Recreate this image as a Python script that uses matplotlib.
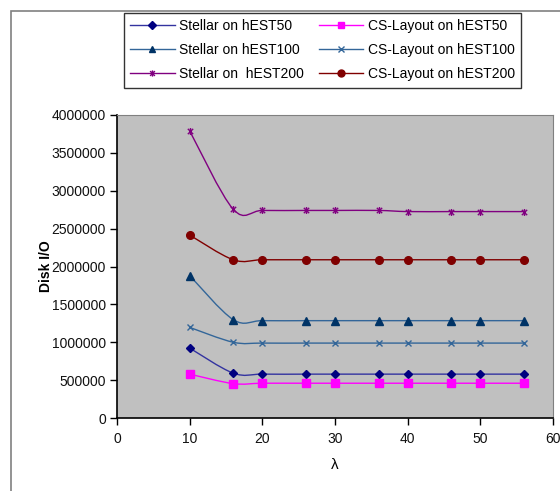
import numpy as np
import matplotlib
matplotlib.use("Agg")
import matplotlib.pyplot as plt
from matplotlib.path import Path
from matplotlib.patches import PathPatch, Rectangle
from matplotlib.lines import Line2D

lam = [10, 16, 20, 26, 30, 36, 40, 46, 50, 56]

stellar_50 = [923000, 592000, 579000, 579000, 579000, 579000, 579000, 579000, 579000, 579000]
cs_50 = [579000, 454000, 459000, 459000, 459000, 459000, 459000, 459000, 459000, 459000]
stellar_100 = [1880000, 1298000, 1285000, 1285000, 1285000, 1285000, 1285000, 1285000, 1285000, 1285000]
cs_100 = [1196000, 1000000, 989000, 989000, 989000, 989000, 989000, 989000, 989000, 989000]
stellar_200 = [3790000, 2755000, 2740000, 2740000, 2740000, 2740000, 2725000, 2725000, 2725000, 2725000]
cs_200 = [2415000, 2089000, 2089000, 2089000, 2089000, 2089000, 2089000, 2089000, 2089000, 2089000]

labels = ["Stellar on hEST50", "CS-Layout on hEST50",
          "Stellar on hEST100", "CS-Layout on hEST100",
          "Stellar on  hEST200", "CS-Layout on hEST200"]

plt.rcParams['font.family'] = ['Liberation Sans', 'DejaVu Sans']
plt.rcParams['font.size'] = 10

# star marker like Excel's (x with a vertical bar)
star = Path([(-1, -1), (1, 1), (-1, 1), (1, -1), (0, -1.3), (0, 1.3)],
            [Path.MOVETO, Path.LINETO, Path.MOVETO, Path.LINETO, Path.MOVETO, Path.LINETO])

series = [
    (stellar_50, labels[0], '#3333A0', '#000080', 'D', 4.5),
    (cs_50, labels[1], '#FF00FF', '#FF00FF', 's', 5.5),
    (stellar_100, labels[2], '#336699', '#003366', '^', 5.5),
    (cs_100, labels[3], '#336699', '#336699', 'x', 4.5),
    (stellar_200, labels[4], '#800080', '#800080', star, 5),
    (cs_200, labels[5], '#800000', '#800000', 'o', 5.5),
]


def excel_smooth(ax, xs, ys, color):
    pts = np.column_stack([xs, ys]).astype(float)
    n = len(pts)
    verts = [pts[0]]
    codes = [Path.MOVETO]
    for i in range(n - 1):
        p0 = pts[i - 1] if i > 0 else pts[i]
        p1 = pts[i]
        p2 = pts[i + 1]
        p3 = pts[i + 2] if i + 2 < n else pts[i + 1]
        verts += [p1 + (p2 - p0) / 6, p2 - (p3 - p1) / 6, p2]
        codes += [Path.CURVE4] * 3
    ax.add_patch(PathPatch(Path(verts, codes), facecolor='none', edgecolor=color, lw=1.0))


fig = plt.figure(figsize=(5.6, 4.91), dpi=100)
fig.patches.append(Rectangle((11 / 560, -0.1), 1.2, 1 - 11 / 491 + 0.1, transform=fig.transFigure,
                             fill=False, edgecolor='#808080', lw=1.2))

ax = fig.add_axes([117 / 560, 1 - 418 / 491, 436 / 560, 303 / 491])
ax.set_facecolor('#C0C0C0')

handles = []
for ys, lab, lc, mc, mk, ms in series:
    excel_smooth(ax, lam, ys, lc)
    ax.plot(lam, ys, linestyle='none', marker=mk, color=mc, markersize=ms, mew=1.0)
    handles.append(Line2D([], [], color=lc, lw=1.0, marker=mk, markerfacecolor=mc,
                          markeredgecolor=mc, markersize=ms - 0.5, mew=1.0, label=lab))

ax.set_xlim(0, 60)
ax.set_ylim(0, 4000000)
ax.set_xticks(range(0, 61, 10))
ax.set_yticks(range(0, 4000001, 500000))
ax.yaxis.set_major_formatter(matplotlib.ticker.FuncFormatter(lambda v, _: f'{int(v)}'))
ax.tick_params(direction='out', length=5, width=1, labelsize=10, pad=3, colors='black',
               labelcolor='#111111')
ax.tick_params(axis='x', pad=5)
ax.spines['top'].set_color('#808080')
ax.spines['right'].set_color('#808080')
for s in ['left', 'bottom']:
    ax.spines[s].set_color('black')
    ax.spines[s].set_linewidth(1.2)

ax.set_ylabel("Disk I/O", fontweight='bold', fontsize=10, labelpad=-1)
ax.set_xlabel("λ", fontsize=11, labelpad=9)

order = [0, 2, 4, 1, 3, 5]
leg = fig.legend([handles[i] for i in order], [labels[i] for i in order], ncol=2,
                 loc='upper left', bbox_to_anchor=(124 / 560, 1 - 13 / 491, 397 / 560, 0.0),
                 mode='expand', frameon=True, fancybox=False, edgecolor='black',
                 fontsize=10, handlelength=3.2, handletextpad=0.3, labelspacing=0.72,
                 borderpad=0.45, borderaxespad=0, columnspacing=1.0)
leg.get_frame().set_linewidth(1.0)

fig.savefig("out.png", dpi=100)
